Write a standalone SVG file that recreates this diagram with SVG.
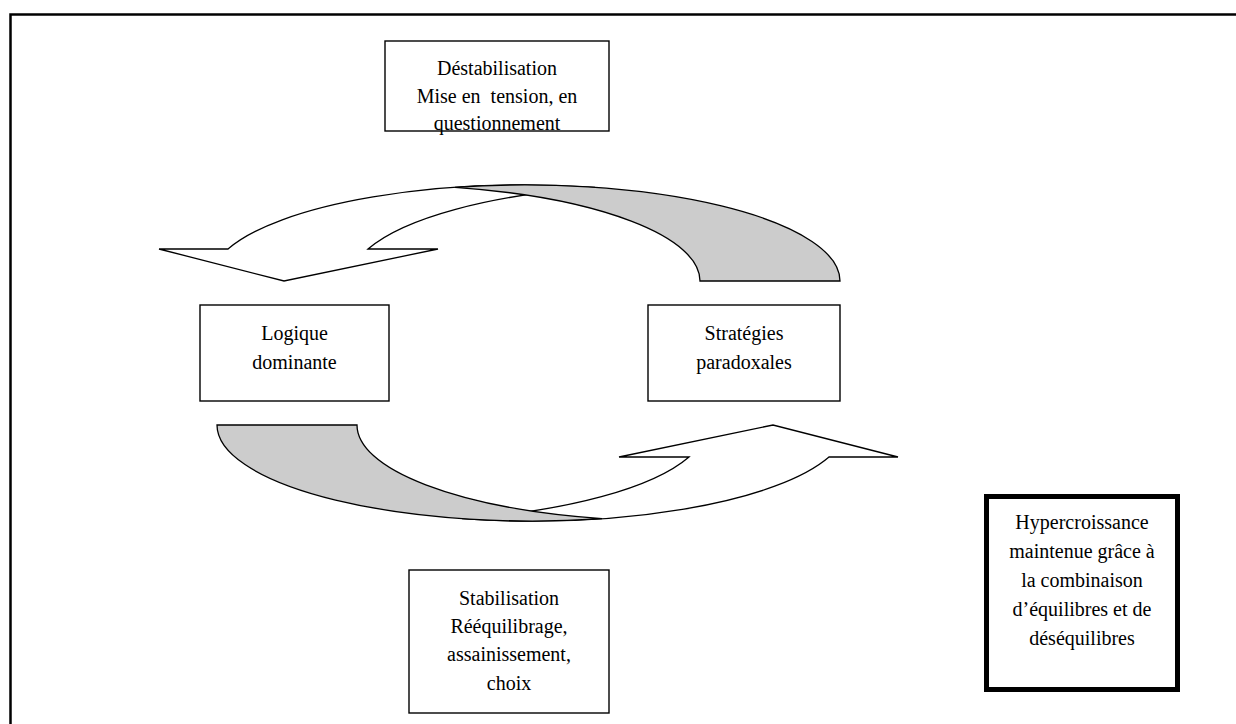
<svg xmlns="http://www.w3.org/2000/svg" width="1236" height="724" viewBox="0 0 1236 724">
<style>
.box{fill:#fff;stroke:#000;stroke-width:1.4}
.thick{fill:#fff;stroke:#000;stroke-width:5}
.frame{fill:none;stroke:#000;stroke-width:2.5}
.white{fill:#fff;stroke:#000;stroke-width:1.3;stroke-linejoin:miter}
.gray{fill:#cccccc;stroke:#000;stroke-width:1.3}
text{font-family:"Liberation Serif","Times New Roman",serif;font-size:20px;fill:#000;text-anchor:middle}
</style>
<defs>
<g id="curvedArrow">
<path class="white" d="M228,249 L159,249 L284,281 L438,249 L368,249 A315,96 0 0 1 595,187.4 A315,96 0 0 0 228,249 Z"/>
<path class="gray" d="M700,281 L840,281 A315,96 0 0 0 455,187.4 A315,96 0 0 1 700,281 Z"/>
</g>
</defs>
<rect x="0" y="0" width="1236" height="724" fill="#fff"/>
<rect class="frame" x="10.5" y="14.5" width="1240" height="730"/>
<g id="connectors">
<use href="#curvedArrow"/>
<use href="#curvedArrow" transform="rotate(180 528.5 353)"/>
</g>
<g id="destabilisation">
<rect class="box" x="385" y="41" width="224" height="90"/>
<text x="497" y="75">Déstabilisation</text>
<text x="497" y="102.5" xml:space="preserve">Mise en  tension, en</text>
<text x="497" y="129.5">questionnement</text>
</g>
<g id="logique">
<rect class="box" x="200" y="305" width="189" height="96"/>
<text x="294.5" y="340">Logique</text>
<text x="294.5" y="369">dominante</text>
</g>
<g id="strategies">
<rect class="box" x="648" y="305" width="192" height="96"/>
<text x="744" y="340">Stratégies</text>
<text x="744" y="369">paradoxales</text>
</g>
<g id="stabilisation">
<rect class="box" x="409" y="570" width="200" height="143"/>
<text x="509" y="605">Stabilisation</text>
<text x="509" y="633">Rééquilibrage,</text>
<text x="509" y="661">assainissement,</text>
<text x="509" y="690">choix</text>
</g>
<g id="hypercroissance">
<rect class="thick" x="986.5" y="496.5" width="191" height="193"/>
<text x="1082" y="529">Hypercroissance</text>
<text x="1082" y="558">maintenue grâce à</text>
<text x="1082" y="587">la combinaison</text>
<text x="1082" y="616">d’équilibres et de</text>
<text x="1082" y="645">déséquilibres</text>
</g>
</svg>
